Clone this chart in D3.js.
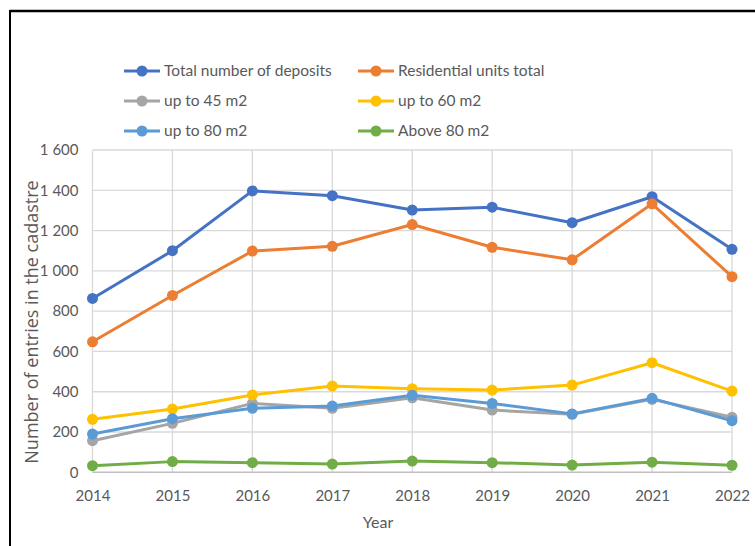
<!DOCTYPE html>
<html><head><meta charset="utf-8">
<script src="https://cdn.jsdelivr.net/npm/d3@7/dist/d3.min.js"></script>
<style>body{margin:0;background:#fff;}svg{display:block;}</style>
</head><body>
<script>
const years = [2014, 2015, 2016, 2017, 2018, 2019, 2020, 2021, 2022];
const totalDeposits = [863, 1100, 1397, 1373, 1302, 1316, 1239, 1368, 1107];
const residentialTotal = [648, 878, 1098, 1122, 1230, 1117, 1055, 1333, 971];
const upTo45 = [157, 243, 342, 318, 370, 309, 288, 362, 273];
const upTo60 = [263, 314, 384, 428, 415, 408, 433, 544, 403];
const upTo80 = [190, 266, 318, 329, 382, 342, 290, 367, 256];
const above80 = [33, 53, 48, 41, 56, 48, 36, 50, 35];
const seriesNames = ["Total number of deposits", "Residential units total", "up to 45 m2", "up to 60 m2", "up to 80 m2", "Above 80 m2"];
const seriesColors = ["#4472C4", "#ED7D31", "#A5A5A5", "#FFC000", "#5B9BD5", "#70AD47"];
const yTicks = [0, 200, 400, 600, 800, 1000, 1200, 1400, 1600];
const yTitle = "Number of entries in the cadastre";
const xTitle = "Year";

const seriesValues = [totalDeposits, residentialTotal, upTo45, upTo60, upTo80, above80];
const series = seriesNames.map((n, i) => ({name: n, color: seriesColors[i], values: seriesValues[i]}));

const W = 755, H = 546;
const svg = d3.select("body").append("svg").attr("width", W).attr("height", H);
const font = "'Liberation Sans Narrow', 'Arial Narrow', Lato, sans-serif";

// frame
svg.append("line").attr("x1", 10).attr("x2", W).attr("y1", 11).attr("y2", 11).attr("stroke", "#000").attr("stroke-width", 2.5);
svg.append("line").attr("x1", 10).attr("x2", 10).attr("y1", 10).attr("y2", H).attr("stroke", "#000").attr("stroke-width", 2);

const x = d3.scalePoint().domain(years).range([92.5, 732]);
const y = d3.scaleLinear().domain([0, 1600]).range([472.3, 150]);

// gridlines
const g = svg.append("g");
g.selectAll(".hg").data(yTicks.slice(1)).join("line")
  .attr("x1", 92.5).attr("x2", 732).attr("y1", d => y(d)).attr("y2", d => y(d))
  .attr("stroke", "#d9d9d9").attr("stroke-width", 1.3);
g.selectAll(".vg").data(years).join("line")
  .attr("x1", d => x(d)).attr("x2", d => x(d)).attr("y1", y(1600)).attr("y2", y(0))
  .attr("stroke", "#d9d9d9").attr("stroke-width", 1.3);
g.append("line").attr("x1", 92.5).attr("x2", 732).attr("y1", y(0)).attr("y2", y(0))
  .attr("stroke", "#bfbfbf").attr("stroke-width", 1.5);

// y axis
const yAxis = d3.axisLeft(y).tickValues(yTicks).tickSize(0).tickPadding(14)
  .tickFormat(d => d3.format(",")(d).replace(",", " "));
const ya = svg.append("g").attr("transform", "translate(92.5,0)").call(yAxis);
ya.select(".domain").remove();
ya.selectAll("text").attr("font-family", font).attr("font-size", 15).attr("fill", "#595959");

// x axis
const xAxis = d3.axisBottom(x).tickSize(0).tickPadding(18);
const xa = svg.append("g").attr("transform", `translate(0,${y(0)})`).call(xAxis);
xa.select(".domain").remove();
xa.selectAll("text").attr("font-family", font).attr("font-size", 15).attr("fill", "#595959");

// titles
svg.append("text").attr("transform", "translate(38,322) rotate(-90)")
  .attr("text-anchor", "middle").attr("font-family", "'Open Sans', sans-serif").attr("font-size", 18)
  .attr("fill", "#595959").text(yTitle);
svg.append("text").attr("x", 378).attr("y", 528).attr("text-anchor", "middle")
  .attr("font-family", font).attr("font-size", 16).attr("fill", "#595959").text(xTitle);

// lines
const line = d3.line().x((d, i) => x(years[i])).y(d => y(d));
const sg = svg.append("g").selectAll("g").data(series).join("g");
sg.append("path").attr("d", d => line(d.values)).attr("fill", "none")
  .attr("stroke", d => d.color).attr("stroke-width", 3).attr("stroke-linejoin", "round");
sg.selectAll("circle").data(d => d.values.map((v, i) => ({v, i, c: d.color}))).join("circle")
  .attr("cx", d => x(years[d.i])).attr("cy", d => y(d.v)).attr("r", 5.5).attr("fill", d => d.c);

// legend
const legX = [124, 358], legY = [71, 101, 131];
const lg = svg.append("g").selectAll("g").data(series).join("g")
  .attr("transform", (d, i) => `translate(${legX[i % 2]},${legY[Math.floor(i / 2)]})`);
lg.append("line").attr("x1", 0).attr("x2", 36).attr("stroke", d => d.color).attr("stroke-width", 3);
lg.append("circle").attr("cx", 18).attr("r", 5.5).attr("fill", d => d.color);
lg.append("text").attr("x", 40).attr("dy", "0.35em").attr("font-family", font).attr("font-size", 15.5)
  .attr("fill", "#595959").text(d => d.name);
</script>
</body></html>
